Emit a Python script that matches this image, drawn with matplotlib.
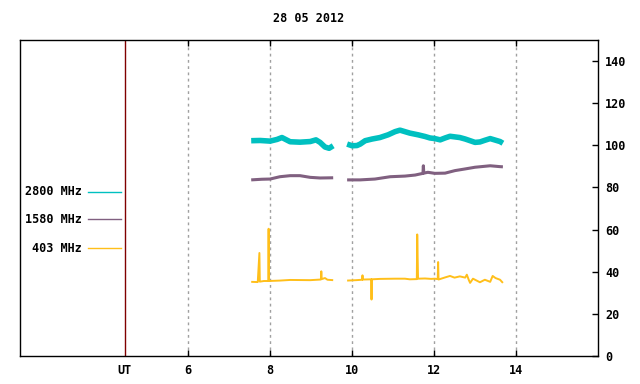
import numpy as np
import matplotlib
matplotlib.use("Agg")
import matplotlib.pyplot as plt

title = "28 05 2012"
series_names = ["2800 MHz", "1580 MHz", "403 MHz"]
colors = ["#00c0c0", "#806080", "#ffbf1a"]

# 2800 MHz
t2800 = [7.54, 7.76, 8.0, 8.17, 8.29, 8.49, 8.73, 8.98, 9.12, 9.22, 9.34, 9.44, 9.54,
         9.7,
         9.88, 10.0, 10.12, 10.2, 10.32, 10.49, 10.68, 10.88, 11.05, 11.17, 11.29, 11.41,
         11.61, 11.78, 11.9, 12.02, 12.15, 12.27, 12.39, 12.51, 12.63, 12.76, 12.88, 13.0,
         13.12, 13.24, 13.37, 13.49, 13.61, 13.68]
v2800 = [102.2, 102.3, 102.0, 102.8, 103.7, 101.7, 101.5, 101.8, 102.6, 101.4, 99.2, 98.6, 99.8,
         np.nan,
         100.6, 99.8, 99.9, 100.6, 102.2, 103.0, 103.7, 105.0, 106.5, 107.2, 106.5, 105.8,
         105.0, 104.2, 103.5, 103.2, 102.6, 103.5, 104.3, 104.0, 103.7, 103.0, 102.2, 101.4,
         101.6, 102.4, 103.2, 102.5, 101.8, 101.0]

# 1580 MHz
t1580 = [7.54, 7.8, 8.0, 8.24, 8.49, 8.73, 8.98, 9.22, 9.54,
         9.7,
         9.88, 10.2, 10.56, 10.93, 11.29, 11.54, 11.73, 11.74, 11.75, 11.85, 12.02, 12.27,
         12.51, 12.76, 13.0, 13.37, 13.6, 13.68]
v1580 = [83.6, 83.9, 84.0, 85.1, 85.6, 85.6, 84.8, 84.5, 84.6,
         np.nan,
         83.6, 83.6, 84.0, 85.1, 85.4, 85.9, 86.7, 90.3, 86.8, 87.2, 86.7, 86.8,
         88.0, 88.8, 89.6, 90.3, 89.9, 89.8]

# 403 MHz
t403 = [7.54, 7.7, 7.74, 7.75, 7.85, 7.96, 7.965, 7.97, 8.24, 8.49, 8.98, 9.24, 9.25, 9.26,
        9.34, 9.4, 9.54,
        9.7,
        9.88, 10.1, 10.25, 10.255, 10.26, 10.47, 10.475, 10.48, 10.68, 11.05, 11.29, 11.41,
        11.58, 11.59, 11.6, 11.61, 11.78, 11.93, 12.02, 12.09, 12.1, 12.11, 12.27, 12.39,
        12.5, 12.63, 12.76, 12.8, 12.85, 12.88, 12.95, 13.12, 13.24, 13.37, 13.43, 13.5,
        13.61, 13.68]
v403 = [35.2, 35.1, 48.9, 35.3, 35.6, 35.6, 60.4, 35.6, 35.8, 36.1, 36.0, 36.3, 40.2, 36.5,
        37.0, 36.2, 36.0,
        np.nan,
        35.8, 36.0, 36.2, 38.3, 36.3, 36.4, 26.8, 36.4, 36.6, 36.7, 36.7, 36.4,
        36.5, 57.7, 47.3, 36.7, 36.8, 36.6, 36.7, 36.5, 44.6, 36.3, 37.3, 38.0,
        37.2, 37.8, 37.2, 38.6, 36.0, 34.7, 36.7, 35.0, 36.2, 35.2, 38.0, 37.0,
        36.2, 34.7]

xtick_vals = [6, 8, 10, 12, 14]
ytick_vals = [0, 20, 40, 60, 80, 100, 120, 140]
ut_pos = 4.46

font = dict(family="DejaVu Sans Mono", weight="bold", size=8.5)

fig = plt.figure(figsize=(6.4, 3.84), dpi=100)
ax = fig.add_axes([20 / 640, 28 / 384, 578 / 640, 316 / 384])
ax.set_xlim(1.9, 16.0)
ax.set_ylim(0, 150)

for x in xtick_vals:
    ax.axvline(x, color="#a0a0a0", lw=1, linestyle=(0, (2, 2.5)), zorder=1)
ax.axvline(ut_pos, color="#800000", lw=1, zorder=1)

ax.plot(t2800, v2800, color=colors[0], lw=4.0, solid_capstyle="butt", zorder=3)
ax.plot(t1580, v1580, color=colors[1], lw=2.2, solid_capstyle="butt", zorder=3)
ax.plot(t403, v403, color=colors[2], lw=1.4, solid_capstyle="butt", zorder=3)

# legend-like labels
leg_y = [78.0, 64.8, 51.1]
for name, c, y in zip(series_names, colors, leg_y):
    ax.text(3.415, y, name, ha="right", va="center", **font)
    ax.plot([3.56, 4.37], [y, y], color=c, lw=1, zorder=3)

ax.set_xticks([ut_pos] + xtick_vals)
ax.set_xticklabels(["UT"] + [str(v) for v in xtick_vals], **font)
ax.yaxis.tick_right()
ax.set_yticks(ytick_vals)
ax.set_yticklabels([str(v) for v in ytick_vals], **font)
ax.tick_params(axis="x", direction="in", top=True, length=4, pad=6, width=1)
ax.tick_params(axis="y", direction="in", right=True, left=False, length=4, pad=5, width=1)
ax.xaxis.get_major_ticks()[0].tick1line.set_visible(False)
ax.xaxis.get_major_ticks()[0].tick2line.set_visible(False)
for s in ax.spines.values():
    s.set_linewidth(1)
    s.set_color("black")

fig.text(309 / 640, 1 - 18 / 384, title, ha="center", va="center", **font)

fig.savefig("out.png", dpi=100, facecolor="white")
